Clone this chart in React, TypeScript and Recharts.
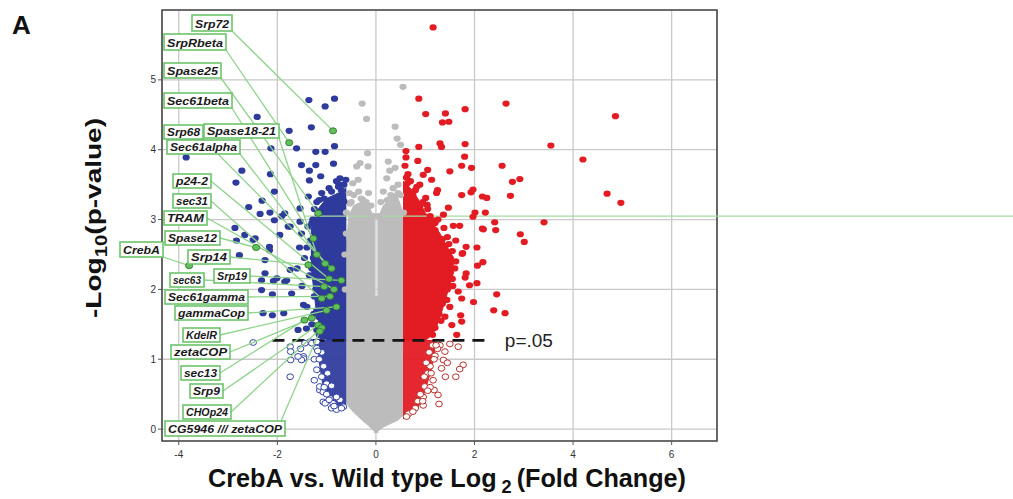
import React from 'react';
import { ComposedChart, Area, Scatter, XAxis, YAxis, CartesianGrid, ReferenceLine, ReferenceArea } from 'recharts';

const X_TICKS = [-4, -2, 0, 2, 4, 6];
const Y_TICKS = [0, 1, 2, 3, 4, 5];
const X_DOMAIN = [-4.34, 6.92];
const Y_DOMAIN = [-0.17, 6.0];
const P_LINE = 1.27;
const P_LINE_X = [-2.1, 2.21];

// dense clouds, each row is [x, low, high]
const GRAY_LEFT = [[-0.6, 0.4, 2.6], [-0.55, 0.32, 3.05], [-0.45, 0.24, 3.2], [-0.3, 0.14, 3.25], [-0.15, 0.05, 3.2], [-0.02, -0.04, 3.0]];
const GRAY_RIGHT = [[0.03, -0.03, 3.0], [0.15, 0.03, 3.2], [0.3, 0.08, 3.3], [0.45, 0.13, 3.3], [0.55, 0.2, 3.1]];
const GRAY_MID = [[-0.04, -0.05, 1.9], [0.05, -0.05, 1.9]];
const BLUE_SIG = [[-1.32, 2.35, 2.85], [-1.22, 1.75, 3.1], [-1.12, 1.4, 3.2], [-1.0, 1.27, 3.3], [-0.85, 1.27, 3.35], [-0.7, 1.27, 3.4], [-0.6, 1.27, 3.45]];
const BLUE_NS = [[-1.17, 1.05, 1.27], [-1.08, 0.65, 1.27], [-0.95, 0.45, 1.27], [-0.8, 0.35, 1.27], [-0.6, 0.3, 1.27]];
const RED_SIG = [[0.55, 1.27, 3.55], [0.7, 1.27, 3.45], [0.85, 1.27, 3.3], [1.0, 1.27, 3.1], [1.15, 1.35, 2.95], [1.3, 1.6, 2.8], [1.45, 1.95, 2.6], [1.58, 2.25, 2.45]];
const RED_NS = [[0.55, 0.15, 1.27], [0.7, 0.2, 1.27], [0.85, 0.3, 1.27], [1.0, 0.55, 1.27], [1.12, 0.85, 1.27], [1.2, 1.1, 1.27]];

const RED_POINTS = [
  [1.16, 5.75], [4.86, 4.48], [3.55, 4.06], [4.2, 3.86], [4.69, 3.37], [4.97, 3.24],
  [0.87, 4.73], [1.01, 4.51], [1.41, 4.52], [1.35, 4.39], [1.48, 4.4], [1.81, 4.58], [2.64, 4.66],
  [1.3, 4.09], [1.33, 4.04], [0.87, 4.04], [1.81, 4.08], [0.61, 3.98], [0.61, 3.89], [0.59, 3.77],
  [0.85, 3.84], [1.8, 3.9], [1.74, 3.77], [1.94, 3.74], [1.5, 3.69], [2.56, 3.77], [2.77, 3.54],
  [2.92, 3.58], [2.73, 3.34], [2.16, 3.33], [2.25, 3.31], [1.74, 3.35], [1.93, 3.39], [1.97, 3.43],
  [2.22, 3.1], [2.01, 3.1], [1.97, 3.04], [3.41, 2.96], [2.41, 2.96], [2.43, 2.85], [2.16, 2.87],
  [2.93, 2.79], [3.01, 2.68], [2.05, 2.6], [1.83, 2.61], [1.76, 2.52], [1.05, 3.71], [1.13, 3.57],
  [0.96, 3.64], [1.25, 3.42], [1.23, 3.38], [0.89, 3.5], [0.83, 3.47], [0.64, 3.52], [1.01, 3.31],
  [1.04, 3.21], [1.47, 3.17], [1.7, 2.91], [1.57, 2.91], [1.37, 3.07], [1.16, 2.99], [0.96, 2.9],
  [2.45, 1.93], [1.98, 1.82], [2.39, 1.7], [2.62, 1.66], [2.17, 2.39], [2.06, 2.34], [2.05, 2.09],
  [1.9, 2.06], [1.83, 2.23], [1.81, 2.17], [1.75, 2.51], [1.67, 1.97], [1.74, 1.87], [1.72, 1.63],
  [1.74, 1.54], [1.64, 1.35], [1.4, 1.61], [1.54, 1.49], [2.18, 2.86],
  [1.6, 2.3], [1.55, 2.15], [1.45, 2.0], [1.35, 1.8], [1.28, 1.65], [1.2, 1.45], [1.15, 1.35],
  [1.3, 2.7], [1.45, 2.75], [1.2, 2.85], [1.1, 3.05], [0.9, 3.2], [0.75, 3.35], [0.7, 3.55],
  [0.65, 3.65], [1.5, 2.45], [1.4, 2.6], [1.62, 2.7], [1.1, 1.4], [1.3, 1.9], [1.5, 1.75],
  [1.62, 2.4], [1.55, 2.55], [1.5, 2.3], [1.42, 2.1], [1.35, 1.95], [1.25, 1.7], [1.18, 1.5],
  [1.12, 1.38], [1.35, 2.72], [1.2, 2.95], [1.05, 3.15], [0.95, 3.25], [0.8, 3.42], [0.62, 3.6],
  [1.48, 2.65], [1.38, 2.88], [1.26, 3.0], [1.56, 2.05], [1.44, 1.85], [1.32, 1.55],
];
const RED_NS_POINTS = [
  [1.67, 1.18], [1.77, 0.92], [1.7, 0.86], [1.62, 0.75], [1.41, 0.75], [1.28, 0.36], [1.26, 0.49],
  [1.18, 0.56], [1.37, 0.99], [1.33, 0.87], [1.4, 1.11], [1.3, 1.2], [1.16, 0.7], [0.99, 0.61],
  [0.96, 0.46], [0.96, 0.34], [0.66, 0.22], [0.62, 0.18], [1.2, 1.05], [1.1, 0.9], [1.05, 0.8],
  [1.25, 1.15], [0.9, 0.5], [0.85, 0.4], [0.8, 0.3], [1.1, 0.6], [1.02, 0.95], [1.15, 1.2],
  [1.45, 0.95], [1.5, 1.22], [0.75, 0.25],
  [1.18, 1.0], [1.05, 0.55], [0.95, 0.4], [1.22, 1.2], [1.12, 0.8], [1.08, 1.1], [0.98, 0.75],
];
const BLUE_POINTS = [
  [-1.36, 4.71], [-0.84, 4.73], [-1.03, 4.62], [-2.41, 4.47], [-1.31, 4.32], [-1.76, 4.27],
  [-2.13, 4.02], [-1.61, 4.02], [-0.84, 4.05], [-1.22, 3.97], [-1.03, 3.97], [-1.51, 3.78],
  [-1.22, 3.78], [-0.86, 3.8], [-1.35, 3.7], [-2.72, 3.7], [-2.84, 3.53], [-2.14, 3.65],
  [-1.35, 3.56], [-1.12, 3.62], [-0.73, 3.59], [-0.61, 3.57], [-0.76, 3.47], [-0.7, 3.42],
  [-1.1, 3.38], [-1.37, 3.33], [-0.68, 3.34], [-0.65, 3.26], [-2.31, 3.27], [-2.58, 3.18],
  [-1.91, 3.05], [-2.15, 3.1], [-2.35, 3.08], [-1.54, 3.16], [-2.86, 2.88], [-2.66, 2.78],
  [-2.49, 2.71], [-2.16, 2.61], [-1.95, 2.78], [-1.74, 2.9], [-2.77, 2.49], [-3.85, 3.89],
  [-2.83, 2.7], [-2.45, 2.73], [-2.25, 2.42], [-2.16, 2.56], [-2.32, 2.13], [-2.08, 2.12],
  [-1.85, 2.11], [-1.74, 2.28], [-2.29, 1.66], [-2.1, 1.63], [-1.87, 1.66], [-2.32, 1.99],
  [-2.1, 1.93], [-2.25, 2.23], [-2.01, 2.16], [-1.81, 2.13], [-1.71, 1.94], [-1.47, 1.78],
  [-1.58, 1.42], [-1.41, 1.44], [-2.06, 3.4], [-1.85, 3.09], [-1.78, 2.9], [-1.54, 2.97],
  [-1.51, 2.8], [-2.06, 2.99],
  [-1.3, 2.95], [-1.25, 3.15], [-1.4, 2.6], [-1.35, 2.2], [-1.25, 1.9], [-1.2, 1.7], [-1.3, 1.5],
  [-1.15, 1.35], [-1.45, 2.45], [-1.5, 2.05], [-1.2, 3.25], [-0.95, 3.45], [-1.05, 3.3],
  [-0.8, 3.55], [-1.4, 1.75], [-1.6, 2.3], [-1.55, 2.6],
  [-1.28, 3.0], [-1.18, 2.2], [-1.15, 1.6], [-1.22, 2.0], [-1.33, 2.7], [-1.27, 2.45],
  [-1.12, 1.45], [-1.08, 1.32], [-0.9, 3.4], [-0.75, 3.5], [-0.65, 3.5], [-1.15, 3.28],
  [-1.38, 2.9], [-1.3, 2.3], [-1.26, 1.65], [-1.2, 1.42],
];
const BLUE_NS_POINTS = [
  [-2.49, 1.24], [-1.74, 1.18], [-1.73, 0.99], [-1.74, 0.75], [-1.47, 1.04], [-1.34, 1.25],
  [-1.2, 1.16], [-1.14, 0.56], [-1.07, 0.39], [-0.93, 0.44], [-0.73, 0.42], [-1.53, 1.15],
  [-1.47, 1.01], [-1.14, 0.61], [-1.07, 0.53], [-1.03, 0.37], [-0.87, 0.37], [-0.8, 0.46],
  [-0.66, 0.32], [-1.73, 1.11], [-1.51, 0.99], [-1.58, 1.04], [-1.44, 1.23], [-1.3, 1.23],
  [-1.25, 1.0], [-1.2, 0.85], [-1.1, 0.75], [-1.25, 0.7], [-1.0, 0.5], [-0.9, 0.3], [-0.8, 0.28],
  [-1.1, 1.1], [-1.0, 0.65], [-1.2, 1.25],
  [-1.15, 1.0], [-1.05, 0.6], [-0.95, 0.42], [-0.85, 0.33], [-0.7, 0.3], [-1.18, 1.12],
  [-0.98, 0.8], [-0.9, 0.62], [-1.06, 0.9],
];
const GRAY_POINTS = [
  [0.55, 4.9], [-0.28, 4.66], [-0.19, 4.44], [-0.17, 3.95], [-0.32, 3.81], [-0.16, 3.76],
  [0.39, 4.33], [0.43, 4.16], [0.5, 4.07], [0.25, 3.83], [0.39, 3.74], [-0.47, 3.52],
  [-0.36, 3.57], [-0.54, 3.38], [-0.15, 3.38], [-0.26, 3.28], [-0.53, 3.23], [0.23, 3.28],
  [0.39, 3.33], [0.28, 3.7], [0.22, 3.59], [-0.39, 3.76], [0.45, 3.5], [0.35, 3.45],
  [-0.45, 3.35], [-0.6, 3.1], [0.5, 3.35], [-0.1, 3.2], [0.1, 3.25], [0.15, 3.4], [-0.35, 3.4],
  [-0.6, 2.8], [-0.63, 2.5], [-0.62, 2.0], [0.56, 3.1],
  [-0.5, 3.25], [-0.3, 3.3], [0.3, 3.35], [0.45, 3.38], [-0.2, 3.25], [0.05, 3.05], [-0.05, 3.05],
];

// highlighted secretory genes
const GENES = [
  ['Srp72', -0.87, 4.27], ['SrpRbeta', -1.76, 4.1], ['Spase25', -1.17, 3.09], ['Sec61beta', -1.27, 2.73],
  ['Srp68', -0.9, 2.3], ['Spase18-21', -1.2, 2.5], ['Sec61alpha', -1.03, 2.37], ['p24-2', -0.95, 2.15],
  ['sec31', -1.1, 1.87], ['TRAM', -0.85, 2.0], ['Spase12', -2.43, 2.6], ['CrebA', -3.79, 2.34],
  ['Srp14', -1.37, 2.35], ['sec63', -1.05, 2.04], ['Srp19', -0.7, 2.13], ['Sec61gamma', -0.93, 1.9],
  ['gammaCop', -0.8, 1.75], ['KdelR', -1.0, 1.7], ['zetaCOP', -1.3, 1.59], ['sec13', -1.45, 1.56],
  ['Srp9', -1.17, 1.49], ['CHOp24', -1.1, 1.45], ['CG5946 /// zetaCOP', -1.14, 1.4],
];

// label box layout in page pixels: left, top, width, height, where the leader leaves the box
const LABEL_BOXES: Record<string, [number, number, number, number, string]> = {
  'Srp72': [192, 15, 40, 16, 'br'],
  'SrpRbeta': [164, 34, 62, 16, 'br'],
  'Spase25': [164, 63, 57, 15, 'br'],
  'Sec61beta': [164, 93, 68, 15, 'br'],
  'Srp68': [164, 125, 39, 14, 'br'],
  'Spase18-21': [204, 124, 75, 14, 'br'],
  'Sec61alpha': [167, 140, 73, 14, 'br'],
  'p24-2': [173, 174, 38, 14, 'r'],
  'sec31': [173, 194, 38, 14, 'r'],
  'TRAM': [164, 211, 43, 14, 'r'],
  'Spase12': [165, 231, 55, 14, 'r'],
  'CrebA': [120, 242, 43, 15, 'br'],
  'Srp14': [188, 250, 42, 14, 'r'],
  'sec63': [170, 273, 34, 14, 'r'],
  'Srp19': [214, 269, 36, 14, 'r'],
  'Sec61gamma': [165, 290, 83, 14, 'r'],
  'gammaCop': [175, 306, 73, 14, 'r'],
  'KdelR': [183, 328, 37, 14, 'r'],
  'zetaCOP': [171, 345, 59, 14, 'r'],
  'sec13': [181, 366, 39, 14, 'r'],
  'Srp9': [190, 384, 33, 14, 'r'],
  'CHOp24': [183, 405, 48, 14, 'r'],
  'CG5946 /// zetaCOP': [165, 421, 120, 15, 'tr'],
};

const BLUE = '#2f3b9c';
const RED = '#e31b23';
const GRAY = '#bcbcbc';
const GREEN = '#6cc46a';
const FONT = 'Liberation Sans, Arial, Helvetica, sans-serif';

const clouds: Record<string, number[][]> = {
  grayL: GRAY_LEFT, grayR: GRAY_RIGHT, grayM: GRAY_MID,
  blueF: BLUE_SIG, blueO: BLUE_NS, redF: RED_SIG, redO: RED_NS,
};
const cloudRows = Object.entries(clouds)
  .flatMap(([k, rows]) => rows.map(([x, lo, hi]) => ({ x, [k]: [lo, hi] })))
  .sort((a, b) => a.x - b.x);

const toXY = (arr: number[][]) => arr.map(([x, y]) => ({ x, y }));
const genes = GENES.map(([name, x, y]) => ({ name, x, y }));

const filledDot = (fill: string) => (p: any) => (
  <ellipse cx={p.cx} cy={p.cy} rx={3.6} ry={3.1} fill={fill} />
);
const openDot = (stroke: string) => (p: any) => (
  <ellipse cx={p.cx} cy={p.cy} rx={3.3} ry={2.9} fill="#fff" stroke={stroke} strokeWidth={1} />
);

const anchorOf = (b: [number, number, number, number, string]) => {
  const [l, t, w, h, a] = b;
  if (a === 'br') return [l + w, t + h];
  if (a === 'tr') return [l + w - 4, t];
  return [l + w, t + h / 2];
};

const Leader = (p: any) => {
  const b = LABEL_BOXES[p.payload.name];
  const [ax, ay] = anchorOf(b);
  return <line x1={ax} y1={ay} x2={p.cx} y2={p.cy} stroke="#8fd48b" strokeWidth={1.3} />;
};
const GeneDot = (p: any) => (
  <ellipse cx={p.cx} cy={p.cy} rx={3.6} ry={3.1} fill="#5fbf5a" stroke="#2f6e2c" strokeWidth={0.8} />
);
const GeneBox = (p: any) => {
  const [l, t, w, h] = LABEL_BOXES[p.payload.name];
  return (
    <g>
      <rect x={l} y={t} width={w} height={h} fill="#fff" stroke={GREEN} strokeWidth={1.6} />
      <text
        x={l + 3}
        y={t + h - 3.5}
        fontSize={11}
        fontWeight="bold"
        fontStyle="italic"
        fontFamily={FONT}
        fill="#1a1a1a"
        textLength={w - 6}
        lengthAdjust="spacingAndGlyphs"
      >
        {p.payload.name}
      </text>
    </g>
  );
};

export default function App() {
  const tick = { fontSize: 10, fill: '#333', fontFamily: FONT };
  return (
    <div style={{ position: 'relative', width: 1013, height: 499, background: '#fff' }}>
      <style>{'body{margin:0;background:#fff}'}</style>
      <ComposedChart width={1013} height={499} data={cloudRows} margin={{ top: 10, right: 296, bottom: 0, left: 0 }}>
        <CartesianGrid stroke="#c9c9c9" strokeWidth={1.3} />
        <XAxis
          type="number"
          dataKey="x"
          domain={X_DOMAIN}
          ticks={X_TICKS}
          height={58}
          tick={tick}
          tickSize={4}
          tickMargin={6}
          axisLine={false}
          tickLine={{ stroke: '#555' }}
        />
        <YAxis
          type="number"
          dataKey="y"
          domain={Y_DOMAIN}
          ticks={Y_TICKS}
          width={162}
          tick={tick}
          tickSize={4}
          axisLine={false}
          tickLine={{ stroke: '#555' }}
        />
        {['grayL', 'grayR', 'grayM'].map((k) => (
          <Area key={k} dataKey={k} type="linear" fill={GRAY} fillOpacity={1} stroke={GRAY} strokeWidth={1} connectNulls dot={false} activeDot={false} isAnimationActive={false} />
        ))}
        <Scatter data={toXY(GRAY_POINTS)} shape={filledDot(GRAY)} isAnimationActive={false} />
        <Area dataKey="blueF" type="linear" fill={BLUE} fillOpacity={1} stroke={BLUE} strokeWidth={1} connectNulls dot={false} activeDot={false} isAnimationActive={false} />
        <Area dataKey="blueO" type="linear" fill="#33409e" fillOpacity={0.96} stroke="#33409e" strokeWidth={1} connectNulls dot={false} activeDot={false} isAnimationActive={false} />
        <Area dataKey="redF" type="linear" fill={RED} fillOpacity={1} stroke={RED} strokeWidth={1} connectNulls dot={false} activeDot={false} isAnimationActive={false} />
        <Area dataKey="redO" type="linear" fill={RED} fillOpacity={0.94} stroke={RED} strokeWidth={1} connectNulls dot={false} activeDot={false} isAnimationActive={false} />
        <Scatter data={toXY(BLUE_NS_POINTS)} shape={openDot('#3343a6')} isAnimationActive={false} />
        <Scatter data={toXY(RED_NS_POINTS)} shape={openDot('#b8302c')} isAnimationActive={false} />
        <Scatter data={toXY(BLUE_POINTS)} shape={filledDot(BLUE)} isAnimationActive={false} />
        <Scatter data={toXY(RED_POINTS)} shape={filledDot(RED)} isAnimationActive={false} />
        <ReferenceLine
          segment={[{ x: -1.45, y: 3.05 }, { x: 12.95, y: 3.05 }]}
          stroke="#a6dca2"
          strokeWidth={1.2}
          ifOverflow="visible"
        />
        <Scatter data={genes} shape={Leader} isAnimationActive={false} />
        <Scatter data={genes} shape={GeneDot} isAnimationActive={false} />
        <Scatter data={genes} shape={GeneBox} isAnimationActive={false} />
        <ReferenceLine
          segment={[{ x: P_LINE_X[0], y: P_LINE }, { x: P_LINE_X[1], y: P_LINE }]}
          stroke="#151515"
          strokeWidth={2.6}
          strokeDasharray="12 8"
          label={{ value: 'p=.05', position: 'right', offset: 20, fontSize: 19, fill: '#222', fontFamily: FONT }}
        />
        <ReferenceArea x1={X_DOMAIN[0]} x2={X_DOMAIN[1]} y1={Y_DOMAIN[0]} y2={Y_DOMAIN[1]} fill="none" stroke="#4a4a4a" strokeWidth={1.6} />
      </ComposedChart>
      <svg width={1013} height={499} style={{ position: 'absolute', left: 0, top: 0, pointerEvents: 'none' }}>
        <text x={12} y={34} fontSize={26} fontWeight="bold" fontFamily={FONT} fill="#111">A</text>
        <text
          transform="translate(101,218) rotate(-90)"
          textAnchor="middle"
          fontSize={22}
          fontWeight="bold"
          fontFamily={FONT}
          fill="#111"
          textLength={200}
          lengthAdjust="spacingAndGlyphs"
        >
          -Log<tspan fontSize={16} dy={6}>10</tspan><tspan dy={-6}>(p-value)</tspan>
        </text>
        <text
          x={447}
          y={487}
          textAnchor="middle"
          fontSize={25}
          fontWeight="bold"
          fontFamily={FONT}
          fill="#111"
          textLength={478}
          lengthAdjust="spacingAndGlyphs"
        >
          CrebA vs. Wild type Log<tspan fontSize={18} dy={6}> 2 </tspan><tspan dy={-6}>(Fold Change)</tspan>
        </text>
      </svg>
    </div>
  );
}
